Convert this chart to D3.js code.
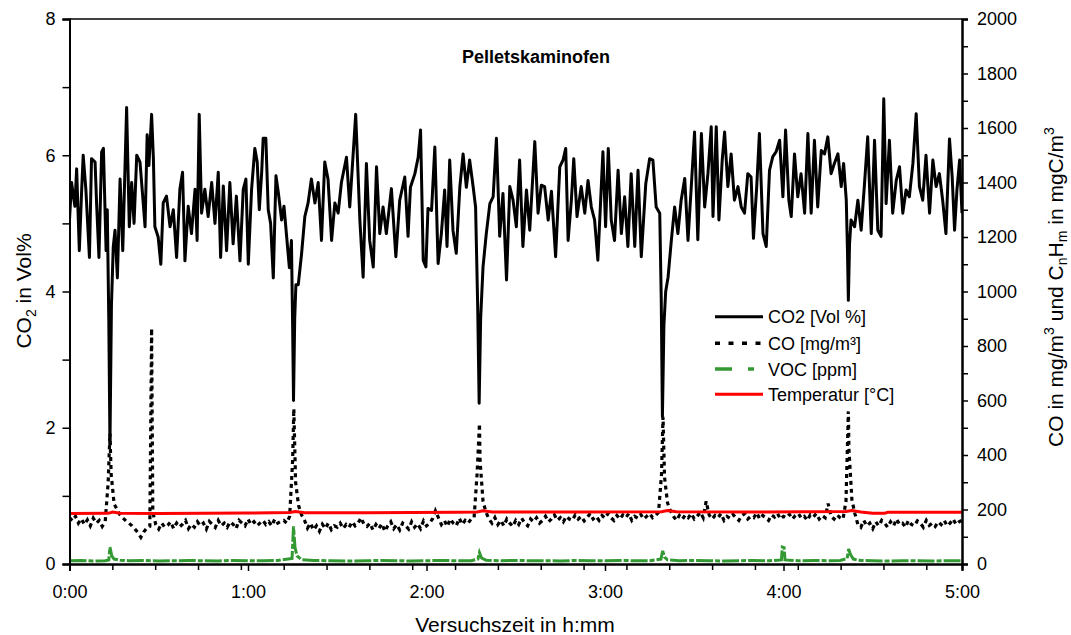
<!DOCTYPE html>
<html><head><meta charset="utf-8">
<script src="https://cdn.jsdelivr.net/npm/d3@7"></script>
<style>body{margin:0;background:#fff} text{font-family:Arial,"Liberation Sans",sans-serif;fill:#000}</style>
</head><body><svg id="c" width="1071" height="635"></svg>
<script>
// ---------- DATA ----------
const chartTitle = "Pelletskaminofen";
const xTickMinutes = [0, 60, 120, 180, 240, 300];
const xTickLabels = ["0:00", "1:00", "2:00", "3:00", "4:00", "5:00"];
const leftTicks = [0, 2, 4, 6, 8];
const rightTicks = [0, 200, 400, 600, 800, 1000, 1200, 1400, 1600, 1800, 2000];
const legendLabels = ["CO2 [Vol %]", "CO [mg/m³]", "VOC [ppm]", "Temperatur [°C]"];

// CO2 in Vol% (left axis), time in minutes
const co2Time = [0,0.7,1.8,2.4,3.3,4.1,4.6,5.5,6.7,7.4,8.6,9.1,9.9,10.8,11.4,12.3,12.7,13.2,13.6,14.1,14.7,15.3,16.1,17.0,17.9,19.2,20.1,20.9,21.7,22.6,23.7,24.6,25.4,26.1,26.7,27.6,28.2,28.7,29.8,30.7,31.5,32.6,33.8,34.9,36.0,37.1,38.0,38.8,39.9,41.0,42.2,42.9,43.6,44.4,45.5,46.6,47.8,48.9,50.0,50.8,51.7,52.8,53.9,55.0,56.1,57.3,58.4,59.3,60.1,61.2,62.3,63.1,63.8,64.6,65.1,66.0,66.8,67.6,68.5,69.4,70.2,71.3,72.1,73.0,73.9,74.6,75.0,75.3,75.7,76.1,76.9,78.0,79.1,80.2,81.3,82.5,83.6,84.7,85.8,86.9,88.1,89.2,90.3,91.4,93.1,94.2,96.2,97.6,98.7,99.8,100.9,102.1,103.2,104.3,105.4,106.5,108.2,109.7,111.0,112.7,113.8,114.6,116.1,117.2,118.0,118.9,119.8,120.5,121.7,122.8,123.9,125.0,126.1,126.9,127.8,128.9,130.0,131.2,132.3,133.4,134.5,135.7,136.5,137.2,137.7,138.2,139.0,140.1,141.3,142.4,143.5,144.6,145.7,146.9,148.0,149.1,150.2,151.3,152.4,153.6,154.7,156.4,157.5,158.6,159.7,160.9,162.0,163.4,164.8,165.9,166.8,167.6,168.7,169.5,170.6,172.0,173.2,174.3,175.4,176.5,177.6,179.3,180.2,181.1,182.1,183.2,184.4,185.5,186.6,187.7,188.8,190.0,191.1,192.2,193.7,195.0,196.1,197.2,198.4,198.9,199.3,199.8,200.4,201.2,202.3,203.4,204.5,205.6,206.8,207.9,209.0,210.1,211.2,212.4,213.5,214.6,215.7,216.3,217.4,218.3,219.4,220.2,221.3,222.4,223.5,224.7,225.8,226.9,228.0,229.1,229.9,231.0,231.9,233.1,234.2,235.3,236.4,237.5,238.7,239.8,240.7,241.8,242.6,243.7,244.8,245.9,247.1,248.2,249.3,250.4,251.5,252.7,253.8,254.9,256.0,257.1,258.3,259.4,260.2,261.1,261.5,261.8,262.2,262.7,263.9,265.0,266.1,267.2,268.3,269.5,270.6,271.7,272.8,273.7,274.5,275.6,276.7,277.9,279.0,280.1,281.2,282.3,283.5,284.6,285.7,286.8,287.9,289.1,290.2,291.3,292.4,293.5,294.6,295.8,296.7,297.5,298.3,299.2,300];
const co2Vals = [5.05,5.6,5.25,5.8,4.6,5.5,6.0,5.5,4.5,5.95,5.9,5.3,4.5,6.05,6.1,4.6,5.2,3.6,1.75,3.8,4.65,4.9,4.2,5.65,4.6,6.7,4.95,5.6,5.0,6.0,5.9,5.4,4.95,6.3,5.85,6.6,5.95,4.95,4.8,4.4,5.3,5.4,4.95,5.2,4.5,5.5,5.75,4.45,5.25,4.85,5.5,4.75,6.6,5.15,5.5,5.1,5.6,5.0,5.75,4.5,5.55,4.6,5.6,4.7,5.4,4.45,5.5,5.65,4.4,5.5,6.1,5.9,5.2,5.75,6.25,6.25,5.2,5.0,4.2,5.7,5.45,5.05,5.25,4.8,4.35,4.75,3.5,2.4,3.6,4.1,4.1,4.55,5.1,5.3,5.65,5.3,5.6,4.75,5.9,5.65,4.75,5.3,5.15,5.6,5.97,5.24,6.6,5.05,4.21,5.88,4.75,4.36,5.83,4.85,5.24,4.85,5.51,4.51,5.34,5.68,4.81,5.53,5.73,5.97,6.37,4.46,4.36,5.22,5.19,6.12,4.41,4.85,5.49,4.66,5.93,4.9,4.56,5.53,6.02,5.53,5.93,5.53,5.24,3.8,2.36,3.6,4.36,4.85,5.29,5.39,6.25,4.81,5.44,4.17,5.54,5.34,4.95,5.93,4.66,5.49,4.9,6.2,5.15,5.56,5.54,5.05,5.47,4.51,5.83,5.93,6.1,4.75,5.34,5.95,5.1,5.54,5.15,5.63,5.24,5.05,4.46,6.05,4.95,6.1,5.05,4.75,5.78,4.85,5.39,4.66,5.73,4.66,5.78,4.51,5.58,5.95,5.93,5.24,5.15,3.9,2.16,3.5,4.0,4.21,4.75,5.24,4.85,5.34,5.66,4.75,5.54,6.34,4.76,6.32,5.24,5.73,6.42,5.1,6.42,5.05,5.93,6.34,5.54,6.02,5.34,5.54,5.24,5.15,5.73,5.68,4.78,5.54,6.32,4.85,4.66,5.78,5.98,6.05,6.22,5.39,6.37,5.34,5.1,6.02,5.39,5.73,5.15,6.32,5.15,6.22,5.24,6.07,6.02,6.27,5.73,5.88,6.02,5.54,5.88,5.34,4.6,3.87,4.7,5.05,4.95,5.34,4.9,5.56,6.27,4.85,6.22,4.9,4.81,6.83,5.29,6.22,5.15,5.63,5.83,5.15,5.49,5.39,5.88,6.61,5.54,5.34,6.0,5.15,5.93,5.54,5.73,5.34,4.85,6.24,5.68,4.9,5.49,5.93,5.15];

// CO in mg/m3 (right axis): one value per minute 0..300, plus peak samples
const coBase = [170,158,175,150,166,145,162,140,168,150,160,138,155,300,330,220,200,180,168,158,150,140,128,115,98,118,132,138,190,145,
128,150,135,142,155,130,150,136,146,160,130,146,135,155,140,150,128,156,145,134,160,140,150,135,155,146,130,160,150,140,
165,145,155,140,150,160,145,155,140,165,150,156,160,150,175,380,300,215,180,160,132,150,125,140,120,146,130,150,126,140,
135,150,130,145,135,155,140,150,170,145,138,150,125,145,130,148,120,140,155,130,145,125,150,140,128,155,135,148,130,158,
140,150,165,195,170,145,160,138,165,150,140,168,145,160,150,165,170,330,380,230,190,165,150,170,145,160,140,165,150,138,
160,145,168,150,140,165,155,170,150,160,175,155,165,180,160,170,155,175,165,160,180,165,175,158,170,185,165,175,160,178,
168,185,170,160,178,165,180,170,185,160,175,168,182,165,175,185,170,178,190,330,320,225,195,175,160,178,165,180,170,185,
165,175,190,170,230,180,165,178,170,185,160,175,168,182,170,160,178,185,165,175,170,188,165,178,170,160,180,172,185,165,
175,170,182,165,178,185,168,175,160,180,172,185,165,178,170,222,175,165,180,170,165,230,420,235,185,145,135,160,140,150,
130,155,140,160,150,135,155,140,165,145,150,135,160,145,140,158,150,135,160,142,150,138,155,145,160,140,150,165,145,155,160];
const coPeakTime = [13.6, 27.6, 75.4, 137.8, 199.5, 261.8];
const coPeakVals = [480, 865, 570, 515, 540, 560];

// VOC in ppm (right axis)
const vocTime = [0,4,8,12,13.2,13.6,14.2,15,17,20,25,30,35,40,45,50,55,60,65,70,74.8,75.3,75.8,76.5,78,82,88,95,100,105,110,115,120,125,130,135,137.3,137.8,138.5,140,145,150,155,160,165,170,175,180,185,190,195,198.8,199.4,200,201,205,210,215,220,225,230,235,239.3,239.6,240.2,240.5,245,250,255,259,261.4,261.9,262.5,263.5,266,270,275,280,285,290,295,300];
const vocVals = [12,13,11,12,15,62,30,18,14,12,13,11,12,13,12,11,13,12,12,13,20,138,60,30,16,13,12,11,12,13,12,11,12,13,12,12,18,42,22,14,12,13,12,12,11,13,12,12,13,12,12,18,48,25,15,12,13,12,11,12,13,12,15,62,60,15,12,13,12,13,20,55,35,18,13,12,11,12,12,11,12,12];

// Temperature in °C (right axis)
const tempTime = [0,13,14.5,17,30,60,74,76,79,100,130,137,139,142,170,199,201,204,230,261,263,266,270,274,275,300];
const tempVals = [185,186,191,186,185,187,189,193,188,188,190,191,195,191,191,192,196,192,191,193,196,191,186,186,190,190];

// ---------- CHART ----------
const svg = d3.select("#c");
const L = 69.5, R = 962, T = 19, B = 564;
const x = d3.scaleLinear().domain([0, 300]).range([L, R]);
const yL = d3.scaleLinear().domain([0, 8]).range([B, T]);
const yR = d3.scaleLinear().domain([0, 2000]).range([B, T]);

svg.append("defs").append("clipPath").attr("id", "clip")
  .append("rect").attr("x", L).attr("y", T - 2).attr("width", R - L).attr("height", B - T + 2);

const plot = svg.append("g").attr("clip-path", "url(#clip)");

const co2Pts = co2Time.map((t, i) => [t, co2Vals[i]]);
const coPts = coBase.map((v, i) => [i, v])
  .concat(coPeakTime.map((t, i) => [t, coPeakVals[i]]))
  .sort((a, b) => a[0] - b[0]);
const vocPts = vocTime.map((t, i) => [t, vocVals[i]]);
const tempPts = tempTime.map((t, i) => [t, tempVals[i]]);

const lineL = d3.line().x(d => x(d[0])).y(d => yL(d[1]));
const lineR = d3.line().x(d => x(d[0])).y(d => yR(d[1]));

plot.append("path").datum(co2Pts).attr("d", lineL)
  .attr("fill", "none").attr("stroke", "#000").attr("stroke-width", 3).attr("stroke-linejoin", "round");
plot.append("path").datum(coPts).attr("d", lineR)
  .attr("fill", "none").attr("stroke", "#000").attr("stroke-width", 3.2).attr("stroke-dasharray", "4,4");
plot.append("path").datum(vocPts).attr("d", lineR)
  .attr("fill", "none").attr("stroke", "#339933").attr("stroke-width", 3).attr("stroke-dasharray", "17,2,5,2");
plot.append("path").datum(tempPts).attr("d", lineR)
  .attr("fill", "none").attr("stroke", "#ff0000").attr("stroke-width", 3);

// frame top
svg.append("line").attr("x1", L).attr("x2", R).attr("y1", T).attr("y2", T)
  .attr("stroke", "#000").attr("stroke-width", 1.5);

function styleAxis(g) {
  g.select(".domain").attr("stroke", "#000").attr("stroke-width", 2);
  g.selectAll(".tick line").attr("stroke", "#000").attr("stroke-width", 1.5);
  g.selectAll("text").style("font-size", "18px").attr("font-family", null);
}

// x axis
const minorX = d3.range(0, 301, 14.4).filter(v => v <= 300);
svg.append("g").attr("transform", `translate(0,${B})`)
  .call(d3.axisBottom(x).tickValues(minorX).tickFormat("").tickSizeOuter(0).tickSize(6))
  .call(styleAxis);
svg.append("g").attr("transform", `translate(0,${B})`)
  .call(d3.axisBottom(x).tickValues(xTickMinutes).tickFormat((d, i) => xTickLabels[i]).tickSizeOuter(0).tickSize(7).tickPadding(14))
  .call(styleAxis);

// left axis
svg.append("g").attr("transform", `translate(${L},0)`)
  .call(d3.axisLeft(yL).tickValues([1, 3, 5, 7]).tickFormat("").tickSizeOuter(0).tickSize(7))
  .call(styleAxis);
svg.append("g").attr("transform", `translate(${L},0)`)
  .call(d3.axisLeft(yL).tickValues(leftTicks).tickFormat(d3.format("d")).tickSizeOuter(0).tickSize(7).tickPadding(7))
  .call(styleAxis);

// right axis
svg.append("g").attr("transform", `translate(${R},0)`)
  .call(d3.axisRight(yR).tickValues(d3.range(100, 2000, 200)).tickFormat("").tickSizeOuter(0).tickSize(6))
  .call(styleAxis);
svg.append("g").attr("transform", `translate(${R},0)`)
  .call(d3.axisRight(yR).tickValues(rightTicks).tickFormat(d3.format("d")).tickSizeOuter(0).tickSize(6).tickPadding(9))
  .call(styleAxis);

// title
svg.append("text").attr("x", 536).attr("y", 63).attr("text-anchor", "middle")
  .style("font-size", "18px").style("font-weight", "bold").text(chartTitle);

// x title
svg.append("text").attr("x", 515).attr("y", 632).attr("text-anchor", "middle")
  .style("font-size", "21px").text("Versuchszeit in h:mm");

// left title
const lt = svg.append("text").attr("transform", "translate(31,291) rotate(-90)")
  .attr("text-anchor", "middle").style("font-size", "21px");
lt.append("tspan").text("CO");
lt.append("tspan").attr("dy", 5).style("font-size", "14px").text("2");
lt.append("tspan").attr("dy", -5).text(" in Vol%");

// right title
const rt = svg.append("text").attr("transform", "translate(1063,287) rotate(-90)")
  .attr("text-anchor", "middle").style("font-size", "21px");
rt.append("tspan").text("CO in mg/m");
rt.append("tspan").attr("dy", -9).style("font-size", "14px").text("3");
rt.append("tspan").attr("dy", 9).text(" und C");
rt.append("tspan").attr("dy", 4).style("font-size", "14px").text("n");
rt.append("tspan").attr("dy", -4).text("H");
rt.append("tspan").attr("dy", 4).style("font-size", "14px").text("m");
rt.append("tspan").attr("dy", -4).text(" in mgC/m");
rt.append("tspan").attr("dy", -9).style("font-size", "14px").text("3");

// legend
const legStyles = [
  {stroke: "#000", dash: null, w: 3},
  {stroke: "#000", dash: "5,8.5", w: 3.5},
  {stroke: "#339933", dash: "17,16,6,20", w: 3.5},
  {stroke: "#ff0000", dash: null, w: 3}
];
const legY = [316.7, 343.3, 369, 394.3];
const leg = svg.append("g");
legendLabels.forEach((lab, i) => {
  leg.append("line").attr("x1", 715).attr("x2", 763).attr("y1", legY[i]).attr("y2", legY[i])
    .attr("stroke", legStyles[i].stroke).attr("stroke-width", legStyles[i].w)
    .attr("stroke-dasharray", legStyles[i].dash);
  leg.append("text").attr("x", 768).attr("y", legY[i] + 6.5).style("font-size", "18px").text(lab);
});
</script>
</body></html>
